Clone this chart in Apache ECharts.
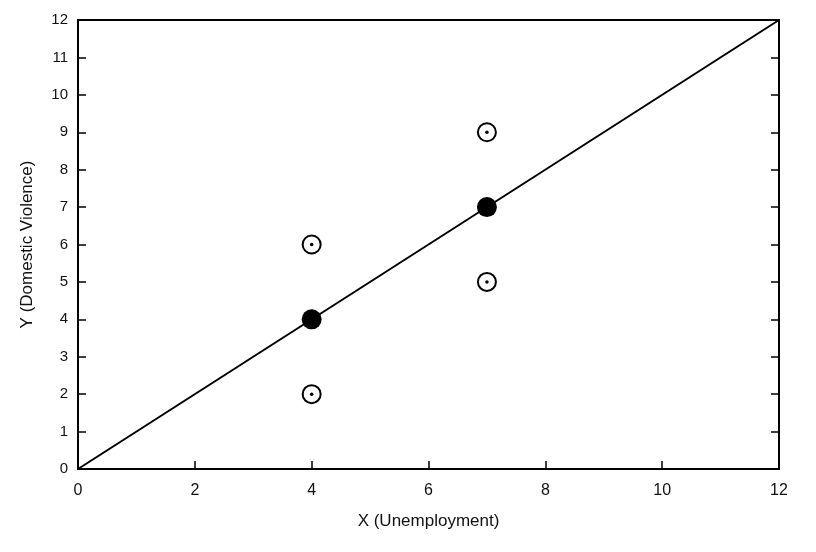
<!DOCTYPE html>
<html>
<head>
<meta charset="utf-8">
<script src="https://cdn.jsdelivr.net/npm/echarts@6/dist/echarts.min.js"></script>
<style>html,body{margin:0;background:#fff}#c{width:816px;height:552px}</style>
</head>
<body>
<div id="c"></div>
<script>
var observed = [[4, 6], [4, 2], [7, 9], [7, 5]];
var means = [[4, 4], [7, 7]];
var fitLine = [[0, 0], [12, 12]];
var xTicks = [0, 2, 4, 6, 8, 10, 12];
var yTicks = [0, 1, 2, 3, 4, 5, 6, 7, 8, 9, 10, 11, 12];

var chart = echarts.init(document.getElementById('c'));
var font = 'Helvetica, Arial, "Liberation Sans", sans-serif';
var lineStyle = {color: '#000', width: 2};

chart.setOption({
    backgroundColor: '#fff',
    animation: false,
    textStyle: {fontFamily: font},
    grid: {left: 78, right: 37, top: 20, bottom: 83, show: true, borderColor: '#000', borderWidth: 2},
    xAxis: [
        {
            type: 'value', min: 0, max: 12, interval: 2,
            name: 'X (Unemployment)', nameLocation: 'middle', nameGap: 44,
            nameTextStyle: {color: '#111', fontSize: 17, fontFamily: font},
            axisLine: {show: true, lineStyle: lineStyle},
            axisTick: {inside: true, length: 8, lineStyle: {color: '#000', width: 1.5}},
            axisLabel: {color: '#111', fontSize: 16, margin: 14},
            splitLine: {show: false}
        }
    ],
    yAxis: [
        {
            type: 'value', min: 0, max: 12, interval: 1,
            name: 'Y (Domestic Violence)', nameLocation: 'middle', nameGap: 42,
            nameTextStyle: {color: '#111', fontSize: 17, fontFamily: font},
            axisLine: {show: true, lineStyle: lineStyle},
            axisTick: {inside: true, length: 8, lineStyle: {color: '#000', width: 1.5}},
            axisLabel: {color: '#111', fontSize: 15, margin: 10},
            splitLine: {show: false}
        },
        {
            type: 'value', min: 0, max: 12, interval: 1, position: 'right',
            axisLine: {show: true, lineStyle: lineStyle},
            axisTick: {inside: true, length: 8, lineStyle: {color: '#000', width: 1.5}},
            axisLabel: {show: false},
            splitLine: {show: false}
        }
    ],
    series: [
        {
            type: 'line', data: fitLine, symbol: 'none',
            lineStyle: {color: '#000', width: 2}, z: 1
        },
        {
            type: 'scatter', data: observed, symbol: 'circle', symbolSize: 18,
            itemStyle: {color: '#fff', borderColor: '#000', borderWidth: 2, opacity: 1}, z: 3
        },
        {
            type: 'scatter', data: observed, symbol: 'circle', symbolSize: 3.5,
            itemStyle: {color: '#000', opacity: 1}, z: 4
        },
        {
            type: 'scatter', data: means, symbol: 'circle', symbolSize: 20,
            itemStyle: {color: '#000', opacity: 1}, z: 3
        }
    ]
});
</script>
</body>
</html>
